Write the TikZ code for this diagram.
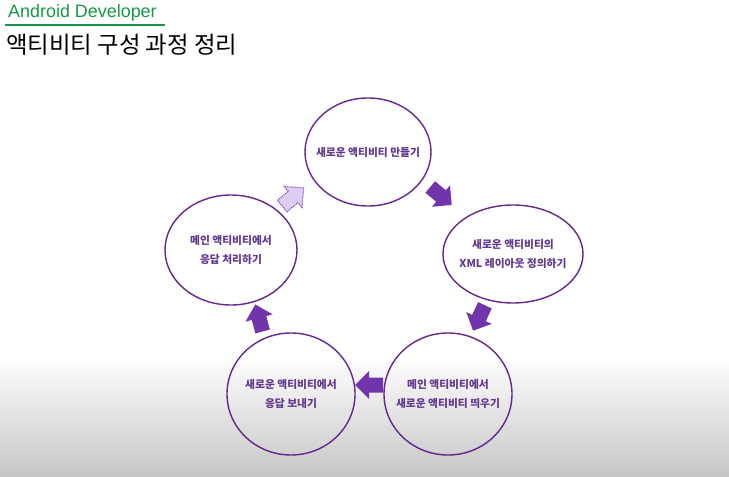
\documentclass[tikz,border=0pt]{standalone}
\usepackage{fontspec}
\setmainfont{Liberation Sans}
\newfontfamily\krfont{Noto Sans CJK KR}
\usetikzlibrary{shapes.geometric}
\definecolor{devgreen}{RGB}{22,152,74}
\definecolor{ringpurple}{RGB}{100,40,140}
\definecolor{textpurple}{RGB}{98,56,144}
\definecolor{arrowpurple}{RGB}{114,52,170}
\definecolor{ghostpurple}{RGB}{220,206,242}
\definecolor{floorgray}{RGB}{198,198,198}
\tikzset{
  stage/.style={draw=ringpurple, line width=1.4bp, ellipse, inner sep=0pt},
  stagelabel/.style={align=center, text=textpurple, inner sep=0pt,
    font=\krfont\bfseries\fontsize{10.8}{20}\selectfont},
  turn/.pic={\path[pic actions] (-14,-7.5) -- (0,-7.5) -- (0,-14) -- (14,0) -- (0,14) -- (0,7.5) -- (-14,7.5) -- cycle;},
  turnfill/.style={fill=arrowpurple},
  ghostturn/.style={fill=ghostpurple, draw=arrowpurple, densely dotted, line width=1bp}
}
\begin{document}
\begin{tikzpicture}[x=1bp,y=-1bp]
\useasboundingbox (0,0) rectangle (729,477);
\shade[top color=white, bottom color=floorgray] (0,355) rectangle (729,477);

% heading
\node[anchor=base west, inner sep=0pt, text=devgreen, font=\fontsize{18}{20}\selectfont] (brand) at (8,18) {Android Developer};
\draw[devgreen, line width=2bp] (5,25) -- (165,25);
\node[anchor=base west, inner sep=0pt, font=\krfont\fontsize{23.5}{26}\selectfont] (title) at (6,54) {액티비티 구성 과정 정리};

% stages
\node[stage, minimum width=126bp, minimum height=108bp, label={[stagelabel]center:새로운 액티비티 만들기}] (make) at (368,152) {};
\node[stage, minimum width=140bp, minimum height=98bp, label={[stagelabel]center:{새로운 액티비티의\\XML 레이아웃 정의하기}}] (layout) at (513,254) {};
\node[stage, minimum width=128bp, minimum height=122bp, label={[stagelabel]center:{메인 액티비티에서\\새로운 액티비티 띄우기}}] (launch) at (448,394) {};
\node[stage, minimum width=128bp, minimum height=122bp, label={[stagelabel]center:{새로운 액티비티에서\\응답 보내기}}] (reply) at (291,394) {};
\node[stage, minimum width=132bp, minimum height=110bp, label={[stagelabel]center:{메인 액티비티에서\\응답 처리하기}}] (handle) at (231,250) {};

% arrows between stages
\pic[turnfill, rotate=-40] (makeToLayout) at (441,196) {turn};
\pic[turnfill, rotate=-115] (layoutToLaunch) at (479,318) {turn};
\pic[turnfill, rotate=180] (launchToReply) at (369,385) {turn};
\pic[turnfill, rotate=105] (replyToHandle) at (259,318) {turn};
\pic[ghostturn, rotate=40] (handleToMake) at (293,197) {turn};
\end{tikzpicture}
\end{document}
